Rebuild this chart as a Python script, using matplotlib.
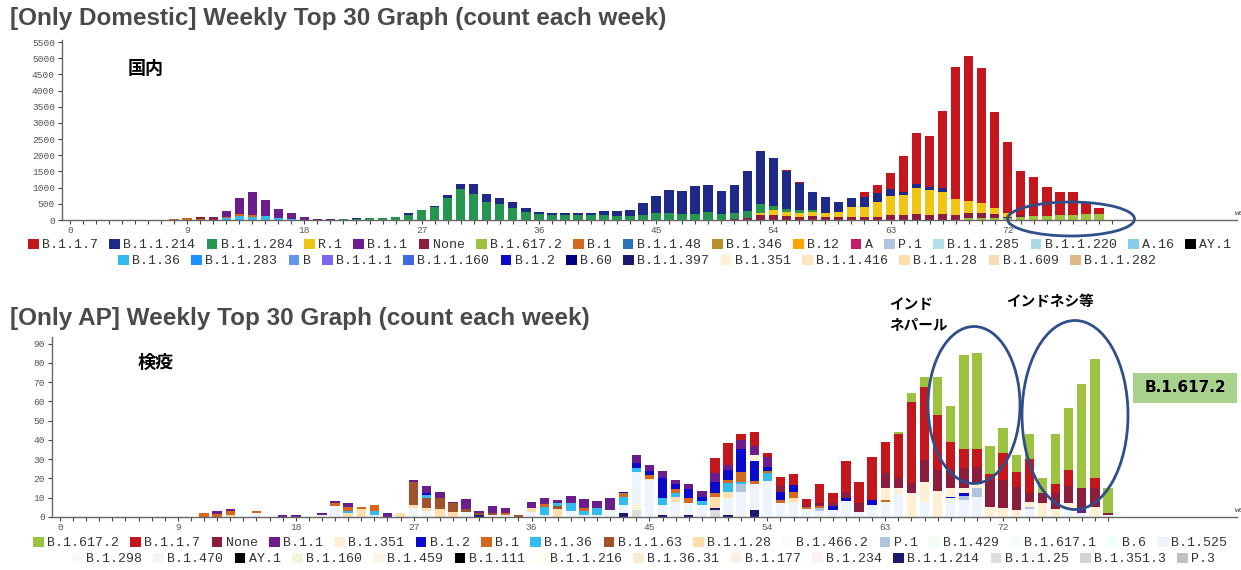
import matplotlib
matplotlib.use("Agg")
import matplotlib.pyplot as plt
from matplotlib.patches import Patch, Ellipse, Rectangle
import numpy as np

# ---------------- data: domestic (weeks 8..79) ----------------
dom_start = 8
dom_b117 = [0, 0, 0, 0, 0, 0, 0, 0, 0, 0,
            0, 0, 0, 0, 0, 0, 0, 0, 0, 0,
            0, 0, 0, 0, 0, 0, 0, 0, 0, 0,
            0, 0, 0, 0, 0, 0, 0, 0, 0, 0,
            0, 0, 0, 0, 0, 0, 0, 30, 30, 0,
            0, 0, 0, 135, 260, 475, 1100, 1600, 1590, 2380,
            4090, 4470, 4150, 2970, 2190, 1370, 1195, 885, 710, 700,
            360, 175]
dom_b11214 = [0, 0, 0, 0, 0, 0, 0, 0, 0, 0,
              0, 0, 0, 0, 20, 0, 20, 0, 70, 0,
              40, 100, 150, 300, 240, 200, 200, 120, 80, 50,
              60, 60, 70, 135, 160, 190, 370, 530, 707, 720,
              865, 840, 726, 840, 1230, 1640, 1480, 1150, 845, 565,
              475, 310, 260, 310, 260, 225, 100, 125, 80, 125,
              0, 0, 0, 0, 0, 0, 0, 0, 0, 0,
              0, 0]
dom_b11284 = [0, 0, 0, 0, 0, 0, 0, 0, 0, 0,
              0, 0, 10, 30, 30, 50, 50, 100, 150, 310,
              400, 670, 950, 800, 556, 494, 360, 257, 175, 155,
              155, 155, 150, 155, 130, 120, 155, 220, 220, 185,
              185, 250, 180, 200, 200, 270, 135, 100, 80, 50,
              10, 0, 0, 0, 0, 0, 0, 0, 0, 0,
              0, 0, 0, 0, 0, 0, 0, 0, 0, 0,
              0, 0]
dom_r1 = [0, 0, 0, 0, 0, 0, 0, 0, 0, 0,
          0, 0, 0, 0, 0, 0, 0, 0, 0, 0,
          0, 0, 0, 0, 0, 0, 0, 0, 0, 0,
          0, 0, 0, 0, 0, 0, 0, 0, 0, 0,
          0, 0, 0, 0, 20, 70, 155, 135, 125, 135,
          120, 155, 330, 310, 465, 590, 620, 790, 770, 690,
          495, 390, 330, 195, 125, 0, 0, 0, 0, 0,
          0, 0]
dom_b11 = [0, 0, 0, 30, 180, 490, 700, 500, 280, 170,
           80, 30, 20, 0, 0, 0, 0, 0, 0, 0,
           0, 0, 0, 0, 0, 0, 0, 0, 0, 0,
           0, 0, 0, 0, 0, 0, 0, 0, 0, 0,
           0, 0, 0, 0, 0, 0, 0, 0, 0, 0,
           0, 0, 0, 0, 0, 0, 0, 0, 0, 0,
           0, 0, 0, 0, 0, 0, 0, 0, 0, 0,
           0, 0]
dom_none = [0, 0, 40, 50, 0, 0, 0, 0, 0, 0,
            0, 0, 0, 0, 0, 0, 0, 0, 0, 0,
            0, 0, 0, 0, 0, 0, 0, 0, 0, 0,
            0, 0, 0, 0, 0, 0, 0, 0, 0, 0,
            0, 0, 0, 30, 50, 150, 155, 120, 100, 125,
            100, 100, 80, 100, 100, 155, 155, 185, 155, 185,
            155, 155, 155, 135, 50, 70, 0, 0, 0, 0,
            0, 0]
dom_b16172 = [0] * 60 + [0, 50, 50, 50, 50, 80, 125, 125, 145, 155, 185, 185]
dom_b1 = [20, 50, 40, 0, 50, 60, 50, 10, 0, 0] + [0] * 62
dom_b136 = [0, 0, 0, 0, 50, 120, 100, 120, 50, 35] + [0] * 62

dom_names = ["B.1.1.7", "B.1.1.214", "B.1.1.284", "R.1", "B.1.1", "None",
             "B.1.617.2", "B.1", "B.1.1.48", "B.1.346", "B.12", "A", "P.1",
             "B.1.1.285", "B.1.1.220", "A.16", "AY.1",
             "B.1.36", "B.1.1.283", "B", "B.1.1.1", "B.1.1.160", "B.1.2",
             "B.60", "B.1.1.397", "B.1.351", "B.1.1.416", "B.1.1.28",
             "B.1.609", "B.1.1.282"]
dom_counts = {"B.1.1.7": dom_b117, "B.1.1.214": dom_b11214,
              "B.1.1.284": dom_b11284, "R.1": dom_r1, "B.1.1": dom_b11,
              "None": dom_none, "B.1.617.2": dom_b16172, "B.1": dom_b1,
              "B.1.36": dom_b136}

# ---------------- data: airport quarantine (weeks 11..80) ----------------
ap_start = 11
ap_b16172 = [0] * 50 + [0, 0, 0, 1.2, 4.3, 5.5, 19.9, 18.5, 49, 50.2,
                        14.9, 12.6, 9, 13, 7.8, 25.8, 32, 54.2, 62, 12.6]
ap_b117 = [0] * 39 + [7.4,
                      11.2, 3.1, 7.4, 2.4, 5, 5.5, 2.9, 10, 5.2, 16,
                      11.2, 22.1, 16, 23, 42.4, 37.7, 28.5, 14.7, 9.9, 9,
                      3, 14.2, 7.4, 17.6, 0, 4.8, 8.7, 0, 5, 0]
ap_none = [0] * 40 + [0, 0, 0, 0, 2.8, 0, 1.2, 1.4, 1.4, 3.5,
                      4.3, 0, 8, 5.2, 5.2, 11.2, 10.7, 9.5, 9.9, 9,
                      13.8, 14.7, 12.1, 4.3, 4.8, 8.3, 8.7, 10.9, 9.7, 1.2]
ap_b11 = [0, 1.5, 1, 0, 0, 0, 1, 1, 0, 1,
          1.2, 2.2, 0, 0, 1.9, 0, 1.2, 3.5, 3.5, 0.9,
          5, 1.2, 4, 2.6, 0, 3.5, 2.9, 1.7, 3.8, 4.3,
          3.5, 6.4, 0, 4, 2.9, 4, 2.2, 2.8, 2.9, 4.7,
          2.6, 4.8, 4.7, 4.8, 0, 0, 0, 0, 0, 0,
          0, 0, 0, 0, 0, 0, 0, 0, 0, 0,
          0, 0, 0, 0, 0, 0, 0, 2, 0, 0]
ap_b1351 = [0] * 40 + [0, 0, 2.9, 0, 0, 0, 0, 0, 0, 0,
                       0, 0, 6, 3, 12.3, 10.4, 13.7, 4.3, 3, 2.2,
                       5.4, 4.5, 3.6, 3, 7.4, 4, 3.6, 0, 5.4, 0]
ap_b12 = [0, 0, 0, 0, 0, 0, 0, 0, 0, 0,
          0, 0, 0, 0, 0, 0, 0, 1.2, 0, 0,
          0, 0, 0, 0, 0, 0, 0, 0, 0, 0,
          0, 0, 0.9, 2.6, 1.9, 10.4, 2.6, 4.3, 2.1, 6,
          5.2, 12.1, 10.4, 2.1, 4.3, 3.5, 0, 0, 2.1, 1.2,
          0, 2.6, 0, 0, 0, 0, 0, 1, 1.5, 0,
          0, 0, 0, 0, 0, 0, 0, 0, 0, 0]
ap_b1 = [2, 1.5, 2, 0, 1, 0, 0, 0, 0, 0,
         1.2, 1.9, 0.9, 3.1, 0, 0, 0, 0, 0, 0,
         0, 0, 0, 1.4, 0, 0, 2, 0, 0, 1.9,
         0, 0, 2.1, 0, 2.1, 0, 2.1, 2.9, 0, 2.1,
         1.7, 4.7, 1.7, 1.4, 1.4, 3.5, 1, 1.2, 0, 0,
         0, 0, 1, 0, 0, 0, 0, 0, 0, 0,
         0, 0, 0, 0, 0, 0, 0, 0, 0, 0]
ap_b136 = [0] * 10 + [0, 0.9, 0, 1.9, 0, 0, 0, 1.7, 0, 0,
                      0, 0, 0, 0, 0, 0, 3.8, 1.2, 4, 1.7,
                      3.6, 0, 4, 2.1, 0, 3.5, 2.1, 0, 2.2, 0,
                      4.3, 1.2, 0, 4, 0, 0, 0, 0, 0, 0] + [0] * 20
ap_b1163 = [0] * 10 + [0, 0, 0, 0, 0, 0, 11.8, 4.8, 5.5, 4.7,
                       1.7, 0.9, 1, 0, 0.9, 0, 0, 1.7, 0, 0] + [0] * 40
ap_b1128 = [0, 0, 1, 0, 0, 0, 0, 0, 0, 0,
            0, 2.2, 4.2, 0, 0, 1.9, 1.7, 1.7, 4.2, 2.4,
            0, 0, 0, 0, 0, 2.1, 0, 4.2, 0, 0,
            0, 0, 0, 0, 0.9, 0, 2.2, 0, 0, 5.7,
            3.5, 0, 0, 0, 0, 1.7, 0, 0, 0, 0] + [0] * 20
ap_p1 = [0] * 40 + [0, 4, 0, 0, 0, 0, 0, 1.2, 0, 0,
                    0, 0, 0, 0, 0, 0, 0, 0, 2, 4.3,
                    0, 0, 0, 1, 0, 0, 0, 0, 0, 0]
ap_b1525 = [0, 0, 0, 0, 2, 0, 0, 0, 0, 1,
            5.9, 0, 0, 1, 0, 0, 4.5, 3.1, 0, 0,
            2.4, 0, 0.9, 0.9, 0, 2.4, 1.2, 0, 3.1, 1.2,
            1.2, 3.6, 4, 16.4, 19, 5.2, 8, 6.1, 6.2, 0,
            8.7, 13.2, 13.5, 18.7, 7.4, 8, 4, 3.3, 3.6, 8.5,
            2.8, 6.2, 8, 11.9, 0, 8, 0, 9.6, 8.8, 10.6,
            0, 0, 0, 4, 0, 0, 3.6, 1.9, 0, 1]
ap_b1160 = [0] * 30 + [0, 0, 0, 3.5, 0, 0, 0, 0, 0, 0] + [0] * 30
ap_b11214 = [0] * 20 + [0, 1, 0, 0, 0, 0, 0, 0, 0, 0,
                        0, 0, 2.2, 0, 0, 1, 0, 1, 0, 1,
                        1, 0, 3.6, 0, 0, 0, 0, 0, 0, 0] + [0] * 20
ap_b1125 = [0] * 30 + [0, 0, 0, 3.6, 0, 0, 0, 0, 0, 3.5] + [0] * 30

ap_names = ["B.1.617.2", "B.1.1.7", "None", "B.1.1", "B.1.351", "B.1.2",
            "B.1", "B.1.36", "B.1.1.63", "B.1.1.28", "B.1.466.2", "P.1",
            "B.1.429", "B.1.617.1", "B.6", "B.1.525",
            "B.1.298", "B.1.470", "AY.1", "B.1.160", "B.1.459", "B.1.111",
            "B.1.1.216", "B.1.36.31", "B.1.177", "B.1.234", "B.1.1.214",
            "B.1.1.25", "B.1.351.3", "P.3"]
ap_counts = {"B.1.617.2": ap_b16172, "B.1.1.7": ap_b117, "None": ap_none,
             "B.1.1": ap_b11, "B.1.351": ap_b1351, "B.1.2": ap_b12,
             "B.1": ap_b1, "B.1.36": ap_b136, "B.1.1.63": ap_b1163,
             "B.1.1.28": ap_b1128, "P.1": ap_p1, "B.1.525": ap_b1525,
             "B.1.160": ap_b1160, "B.1.1.214": ap_b11214,
             "B.1.1.25": ap_b1125}

# lineage colours (css-ish palette of the original tool)
colors = {
    "B.1.1.7": "#c3171d", "B.1.1.214": "#1f2987", "B.1.1.284": "#24964f",
    "R.1": "#f1c613", "B.1.1": "#6b1d8c", "None": "#8b1e3c",
    "B.1.617.2": "#9dc23f", "B.1": "#d2691e", "B.1.1.48": "#2a73b8",
    "B.1.346": "#b8912d", "B.12": "#ffa500", "A": "#c71a6a",
    "P.1": "#b0c4de", "B.1.1.285": "#b0e0e6", "B.1.1.220": "#add8e6",
    "A.16": "#87ceeb", "AY.1": "#000000", "B.1.36": "#33bbee",
    "B.1.1.283": "#1e90ff", "B": "#6495ed", "B.1.1.1": "#7b68ee",
    "B.1.1.160": "#4169e1", "B.1.2": "#0a0acd", "B.60": "#000080",
    "B.1.1.397": "#191970", "B.1.351": "#ffefd5", "B.1.1.416": "#ffe4c4",
    "B.1.1.28": "#ffdead", "B.1.609": "#f5deb3", "B.1.1.282": "#deb887",
    "B.1.1.63": "#a0522d", "B.1.466.2": "#fffafa", "B.1.429": "#f0fff0",
    "B.1.617.1": "#f5fffa", "B.6": "#f0ffff", "B.1.525": "#eef4fb",
    "B.1.298": "#f8f8ff", "B.1.470": "#f5f5f5", "B.1.160": "#f5f5dc",
    "B.1.459": "#fdf5e6", "B.1.111": "#000000", "B.1.1.216": "#fffff0",
    "B.1.36.31": "#faebd7", "B.1.177": "#faf0e6", "B.1.234": "#fff0f5",
    "B.1.1.25": "#dcdcdc", "B.1.351.3": "#d3d3d3", "P.3": "#c0c0c0",
}
ap_colors = dict(colors)
ap_colors["B.1.1.214"] = "#191970"

W, H = 1241, 570
MONO = "Liberation Mono"


def fx(x):
    return x / W


def fy(y):
    return 1 - y / H


def stacked(ax, names, counts, start, cmap):
    n = len(next(iter(counts.values())))
    weeks = np.arange(start, start + n)
    bottom = np.zeros(n)
    # first legend entry sits on top of the stack
    for name in reversed(names):
        if name not in counts:
            continue
        vals = np.array(counts[name], dtype=float)
        ax.bar(weeks, vals, bottom=bottom, width=0.72, color=cmap[name],
               linewidth=0)
        bottom += vals


def style_axis(ax, ymax, ystep, xlim):
    ax.set_xlim(*xlim)
    ax.set_ylim(0, ymax)
    for s in ["top", "right"]:
        ax.spines[s].set_visible(False)
    for s in ["left", "bottom"]:
        ax.spines[s].set_color("#666666")
        ax.spines[s].set_linewidth(1.0)
    ax.set_yticks(np.arange(0, ymax, ystep))
    ax.set_xticks(np.arange(0, 73, 9))
    ax.set_xticks(np.arange(0, 81), minor=True)
    ax.tick_params(axis="both", which="both", direction="out", length=3,
                   width=0.8, color="#444444", labelsize=6.8,
                   labelcolor="#555555", pad=2)
    ax.tick_params(axis="x", which="major", pad=1.5)
    for lab in ax.get_xticklabels() + ax.get_yticklabels():
        lab.set_family(MONO)


def legend_row(fig, names, cmap, x, y):
    handles = [Patch(facecolor=cmap[n], edgecolor="none") for n in names]
    fig.legend(handles, names, loc="center left",
               bbox_to_anchor=(fx(x), fy(y)), ncol=len(names), frameon=False,
               borderpad=0, borderaxespad=0, handlelength=0.8,
               handleheight=0.8, handletextpad=0.26, columnspacing=0.86,
               prop={"family": MONO, "size": 9.5}, labelcolor="#333333")


fig = plt.figure(figsize=(W / 100, H / 100), dpi=100, facecolor="white")

# --- PANEL A: domestic ---
ax1 = fig.add_axes([fx(62), fy(220), fx(1237) - fx(62), fy(40) - fy(220)])
stacked(ax1, dom_names, dom_counts, dom_start, colors)
style_axis(ax1, 5562, 500, (-0.61, 89.6))
fig.text(fx(10), fy(18), "[Only Domestic] Weekly Top 30 Graph (count each week)",
         fontsize=17.5, fontweight="bold", color="#4a4a4a", va="center",
         family="Liberation Sans")
fig.text(fx(1235), fy(213), "week", fontsize=5.5, color="#444444",
         va="center", family=MONO)
legend_row(fig, dom_names[:17], colors, 28, 245)
legend_row(fig, dom_names[17:], colors, 118, 261)

# --- PANEL B: airport quarantine ---
ax2 = fig.add_axes([fx(52), fy(517), fx(1237) - fx(52), fy(337) - fy(517)])
stacked(ax2, ap_names, ap_counts, ap_start, ap_colors)
style_axis(ax2, 93.4, 10, (-0.61, 89.85))
fig.text(fx(10), fy(318), "[Only AP] Weekly Top 30 Graph (count each week)",
         fontsize=17.5, fontweight="bold", color="#4a4a4a", va="center",
         family="Liberation Sans")
fig.text(fx(1235), fy(510), "week", fontsize=5.5, color="#444444",
         va="center", family=MONO)
legend_row(fig, ap_names[:16], ap_colors, 33, 543)
legend_row(fig, ap_names[16:], ap_colors, 72, 559)

# --- annotations ---
cjk = ["Noto Sans CJK JP", "DejaVu Sans"]
fig.text(fx(128), fy(68), "国内", fontsize=13, fontweight="bold",
         family=cjk, va="center")
fig.text(fx(138), fy(362), "検疫", fontsize=13, fontweight="bold",
         family=cjk, va="center")
fig.text(fx(889), fy(314), "インド\nネパール", fontsize=10.5,
         fontweight="bold", family=cjk, va="center", linespacing=1.25)
fig.text(fx(1006), fy(301), "インドネシ等", fontsize=10.5,
         fontweight="bold", family=cjk, va="center")

fig.patches.append(Rectangle((fx(1133), fy(403)), fx(104), 30 / H,
                             transform=fig.transFigure, facecolor="#a9d18e",
                             edgecolor="none"))
fig.text(fx(1185), fy(388), "B.1.617.2", fontsize=11, fontweight="bold",
         ha="center", va="center", family="DejaVu Sans")

ring = "#2f4f8a"
for cx, cy, w, h in [(1071, 219, 127, 34), (974, 405, 92, 157),
                     (1075, 415, 106, 189)]:
    fig.patches.append(Ellipse((fx(cx), fy(cy)), w / W, h / H,
                               transform=fig.transFigure, fill=False,
                               edgecolor=ring, linewidth=2.0, zorder=10))

plt.savefig("out.png", dpi=100)
plt.close()
